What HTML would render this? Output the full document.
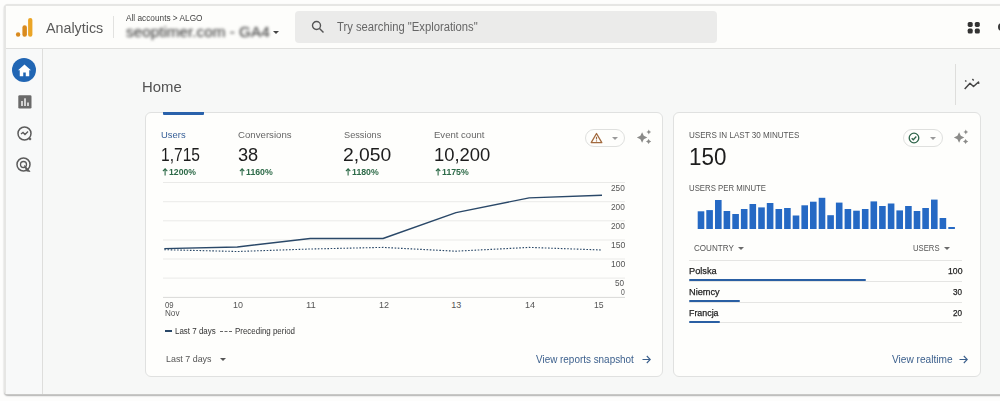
<!DOCTYPE html>
<html><head><meta charset="utf-8">
<style>
*{box-sizing:border-box;margin:0;padding:0}
html,body{width:1000px;height:401px;overflow:hidden;background:#fdfdfc;font-family:"Liberation Sans",sans-serif;color:#222}
.abs{position:absolute}
#frame{position:absolute;left:4px;top:4px;width:1010px;height:390.500px;background:#f7f8f7;border:2px solid #e6e6e4;border-bottom:1px solid #c8c8c6;border-radius:4px;box-shadow:0 1px 1.500px rgba(0,0,0,.3)}
#hdr{position:absolute;left:6px;top:6px;width:994px;height:43px;background:#fdfdfb;border-bottom:1px solid #dfdfdd}
#side{position:absolute;left:6px;top:49px;width:37px;height:344.500px;background:#f8f9f9;border-right:1px solid #dededc}
.card{position:absolute;background:#fefefc;border:1px solid #e0e1e0;border-radius:6px}
.t{position:absolute;white-space:nowrap;line-height:1;transform-origin:0 50%}
.car{position:absolute;width:0;height:0;border:3.5px solid transparent;border-top:3.8px solid #6a6a6a;border-bottom:0;margin-left:-.7px;margin-top:-.3px}
.ln{position:absolute;height:1px;background:#e5e5e3}
.bar{position:absolute;height:2.3px;background:#2a5fa3;left:689px;border-radius:1px}
</style></head><body>
<div id="frame"></div>
<div id="hdr"></div>
<div id="side"></div>

<!-- logo -->
<svg class="abs" style="left:14px;top:15px" width="22" height="24" viewBox="0 0 22 24">
<rect x="14.1" y="3" width="4.3" height="18.8" rx="2.1" fill="#eba526"/>
<rect x="8.4" y="10.2" width="4.5" height="11.6" rx="2.2" fill="#d98a1e"/>
<circle cx="4.1" cy="19.5" r="2.2" fill="#d98a1e"/>
</svg>
<div class="abs" style="left:113px;top:16px;width:1px;height:22px;background:#e2e2e0"></div>
<div class="car" style="left:273.7px;top:31px;border-top-color:#444"></div>

<!-- search -->
<div class="abs" style="left:295px;top:11px;width:422px;height:32px;background:#ebebea;border-radius:4px"></div>
<svg class="abs" style="left:311px;top:20px" width="14" height="14" viewBox="0 0 14 14"><circle cx="5.5" cy="5.5" r="4" fill="none" stroke="#555" stroke-width="1.4"/><path d="M8.5 8.5L12.5 12.5" stroke="#555" stroke-width="1.5"/></svg>

<!-- apps -->
<svg class="abs" style="left:967px;top:20.5px" width="14" height="14" viewBox="0 0 14 14"><g fill="#333"><rect x="0.7" y="0.9" width="5" height="5" rx="1.6"/><rect x="7.8" y="0.9" width="5" height="5" rx="1.6"/><rect x="0.7" y="7.6" width="5" height="5" rx="1.6"/><rect x="7.8" y="7.6" width="5" height="5" rx="1.6"/></g></svg>
<div class="abs" style="left:998.3px;top:23px;width:8px;height:8px;border-radius:4px;background:#3a3a3a"></div>

<!-- sidebar icons -->
<div class="abs" style="left:12.2px;top:58.4px;width:24px;height:24px;border-radius:50%;background:#2166b4"></div>
<svg class="abs" style="left:16.9px;top:63.2px" width="15" height="15" viewBox="0 0 13 13"><path d="M6.5 1.3L.9 6.2H2.4V11.5H5.4V8.200H7.6V11.5H10.6V6.2H12.1Z" fill="#fff"/></svg>
<svg class="abs" style="left:17.5px;top:94.7px" width="14" height="14" viewBox="0 0 14 14"><rect x="0.300" y="0.300" width="13.200" height="13.200" rx="1.300" fill="#6a6a6a"/><rect x="3.300" y="6" width="1.400" height="5" fill="#fff"/><rect x="6.300" y="3.300" width="1.400" height="7.700" fill="#fff"/><rect x="9.300" y="7.500" width="1.400" height="3.500" fill="#fff"/></svg>
<svg class="abs" style="left:15.8px;top:124.6px" width="18" height="18" viewBox="0 0 18 18"><circle cx="8.500" cy="8.500" r="6.500" fill="none" stroke="#5c5c5c" stroke-width="1.500"/><path d="M5 9L7 7.500L9 9.500L12 6.500" fill="none" stroke="#5c5c5c" stroke-width="1.400"/><path d="M12.800 12.800L14.800 14.800" stroke="#5c5c5c" stroke-width="2.200"/></svg>
<svg class="abs" style="left:15.4px;top:156.4px" width="18" height="18" viewBox="0 0 18 18"><circle cx="8.500" cy="8.500" r="6.500" fill="none" stroke="#5c5c5c" stroke-width="1.500"/><circle cx="8.500" cy="8.500" r="3" fill="none" stroke="#5c5c5c" stroke-width="1.300"/><path d="M9.500 9.500L15 15.500L11.500 15Z" fill="#5c5c5c" stroke="#5c5c5c" stroke-width=".8" stroke-linejoin="round"/></svg>

<!-- Home row -->
<div class="abs" style="left:955px;top:63.500px;width:1px;height:41px;background:#dededc"></div>
<svg class="abs" style="left:962px;top:76px" width="20" height="16" viewBox="0 0 20 16"><path d="M2.700 13L8 7.300L11.500 10.500L16.500 6L16.800 7.800" fill="none" stroke="#444" stroke-width="1.500" stroke-linejoin="round"/><path d="M3.200 4.500L4.400 5.500M10.400 3.100L11.700 4.400" stroke="#444" stroke-width="1.400"/></svg>

<!-- card 1 -->
<div class="card" style="left:145px;top:112px;width:517.500px;height:265px"></div>
<div class="abs" style="left:163px;top:112px;width:41px;height:3px;background:#2a62ab;border-radius:0 0 1px 1px"></div>

<!-- pct arrows -->
<svg class="abs" style="left:161.500px;top:168px" width="7" height="8" viewBox="0 0 7 8"><path d="M3.1 7.5V1M.9 3.200L3.1 .9L5.300 3.200" fill="none" stroke="#2d6a48" stroke-width="1.100"/></svg>
<svg class="abs" style="left:238.500px;top:168px" width="7" height="8" viewBox="0 0 7 8"><path d="M3.1 7.5V1M.9 3.200L3.1 .9L5.300 3.200" fill="none" stroke="#2d6a48" stroke-width="1.100"/></svg>
<svg class="abs" style="left:344.500px;top:168px" width="7" height="8" viewBox="0 0 7 8"><path d="M3.1 7.5V1M.9 3.200L3.1 .9L5.300 3.200" fill="none" stroke="#2d6a48" stroke-width="1.100"/></svg>
<svg class="abs" style="left:434.500px;top:168px" width="7" height="8" viewBox="0 0 7 8"><path d="M3.1 7.5V1M.9 3.200L3.1 .9L5.300 3.200" fill="none" stroke="#2d6a48" stroke-width="1.100"/></svg>

<!-- warn pill -->
<div class="abs" style="left:585px;top:129px;width:40px;height:18px;border:1px solid #dfe0de;border-radius:9px;background:#fefefc"></div>
<svg class="abs" style="left:589.800px;top:132px" width="13" height="12" viewBox="0 0 13 12"><path d="M6.500 1.500L11.800 10.600H1.200Z" fill="none" stroke="#a26a3e" stroke-width="1.300" stroke-linejoin="round"/><path d="M6.500 4.800V7.400" stroke="#a26a3e" stroke-width="1.200"/><circle cx="6.500" cy="8.900" r=".7" fill="#a26a3e"/></svg>
<div class="car" style="left:612.700px;top:137.500px;border-top-color:#999"></div>
<svg class="abs" style="left:636px;top:129px" width="17" height="17" viewBox="0 0 17 17"><g fill="#8b8b89"><path d="M6.100 3.300L7.800 6.800L11.300 8.500L7.800 10.200L6.100 13.700L4.400 10.200L.9 8.500L4.400 6.800Z"/><path d="M12.800 .6L13.600 2.200L15.200 3L13.600 3.800L12.800 5.400L12 3.800L10.400 3L12 2.200Z"/><path d="M12.600 9.900L13.500 11.600L15.200 12.500L13.500 13.400L12.600 15.100L11.700 13.400L10 12.500L11.700 11.600Z"/></g></svg>

<!-- chart -->
<svg class="abs" style="left:145px;top:175px" width="518" height="130" viewBox="0 0 518 130">
<g stroke="#eaeae8" stroke-width="1">
<line x1="18" x2="480" y1="7.500" y2="7.500"/><line x1="18" x2="480" y1="26.700" y2="26.700"/><line x1="18" x2="480" y1="45.800" y2="45.800"/><line x1="18" x2="480" y1="65" y2="65"/><line x1="18" x2="480" y1="84" y2="84"/><line x1="18" x2="480" y1="103.100" y2="103.100"/>
</g>
<line x1="18" x2="480" y1="122.400" y2="122.400" stroke="#d9d9d7"/>
<polyline points="19.3,73.6 92.3,72 165.2,63.5 238,63.5 311,37.6 384.2,22.9 457,20.3" fill="none" stroke="#2a4868" stroke-width="1.400" stroke-linejoin="round"/>
<polyline points="19.300,74.700 92.300,76.500 165.200,74 238,72.400 311,76.200 384.200,72.400 457,75" fill="none" stroke="#2a4868" stroke-width="1.100" stroke-dasharray="1.600 1.600"/>
</svg>

<div class="abs" style="left:164.500px;top:330.200px;width:7.500px;height:2px;background:#2a4868"></div>
<div class="abs" style="left:220px;top:330.500px;width:12px;height:0;border-top:1.300px dashed #666"></div>
<div class="car" style="left:220.300px;top:358.200px;border-top-color:#555"></div>
<svg class="abs" style="left:641.500px;top:354.500px" width="9" height="9" viewBox="0 0 9 9"><path d="M.5 4.500H8M4.800 1L8.300 4.500L4.800 8" fill="none" stroke="#3b5f8c" stroke-width="1.100"/></svg>

<!-- card 2 -->
<div class="card" style="left:672.500px;top:112px;width:308px;height:265px"></div>
<div class="abs" style="left:903px;top:129px;width:40px;height:18px;border:1px solid #dfe0de;border-radius:9px;background:#fefefc"></div>
<svg class="abs" style="left:908px;top:132px" width="12" height="12" viewBox="0 0 12 12"><circle cx="6" cy="6" r="4.800" fill="none" stroke="#2e644a" stroke-width="1.300"/><path d="M3.700 6.200L5.300 7.800L8.300 4.500" fill="none" stroke="#2e644a" stroke-width="1.300"/></svg>
<div class="car" style="left:930.700px;top:137.500px;border-top-color:#999"></div>
<svg class="abs" style="left:953px;top:129px" width="17" height="17" viewBox="0 0 17 17"><g fill="#8b8b89"><path d="M6.100 3.300L7.800 6.800L11.300 8.500L7.800 10.200L6.100 13.700L4.400 10.200L.9 8.500L4.400 6.800Z"/><path d="M12.800 .6L13.600 2.200L15.200 3L13.600 3.800L12.800 5.400L12 3.800L10.400 3L12 2.200Z"/><path d="M12.600 9.900L13.500 11.600L15.200 12.500L13.500 13.400L12.600 15.100L11.700 13.400L10 12.500L11.700 11.600Z"/></g></svg>

<svg class="abs" style="left:695px;top:195px" width="265" height="36" viewBox="0 0 265 36"><g fill="#2569c4" transform="translate(.3 0)"><rect x="2.4" y="16.3" width="6.6" height="17.7"/><rect x="11.0" y="15.1" width="6.6" height="18.9"/><rect x="19.7" y="5.0" width="6.6" height="29.0"/><rect x="28.3" y="16.0" width="6.6" height="18.0"/><rect x="37.0" y="19.0" width="6.6" height="15.0"/><rect x="45.6" y="14.0" width="6.6" height="20.0"/><rect x="54.2" y="9.0" width="6.6" height="25.0"/><rect x="62.9" y="12.4" width="6.6" height="21.6"/><rect x="71.5" y="8.0" width="6.6" height="26.0"/><rect x="80.2" y="14.0" width="6.6" height="20.0"/><rect x="88.8" y="13.0" width="6.6" height="21.0"/><rect x="97.4" y="20.5" width="6.6" height="13.5"/><rect x="106.1" y="10.3" width="6.6" height="23.7"/><rect x="114.7" y="6.7" width="6.6" height="27.3"/><rect x="123.4" y="2.8" width="6.6" height="31.2"/><rect x="132.0" y="20.2" width="6.6" height="13.8"/><rect x="140.6" y="7.6" width="6.6" height="26.4"/><rect x="149.3" y="14.0" width="6.6" height="20.0"/><rect x="157.9" y="15.7" width="6.6" height="18.3"/><rect x="166.6" y="14.0" width="6.6" height="20.0"/><rect x="175.2" y="6.4" width="6.6" height="27.6"/><rect x="183.8" y="11.0" width="6.6" height="23.0"/><rect x="192.5" y="8.5" width="6.6" height="25.5"/><rect x="201.1" y="15.4" width="6.6" height="18.6"/><rect x="209.8" y="11.0" width="6.6" height="23.0"/><rect x="218.4" y="16.0" width="6.6" height="18.0"/><rect x="227.0" y="13.0" width="6.6" height="21.0"/><rect x="235.7" y="4.6" width="6.6" height="29.4"/><rect x="244.3" y="23.0" width="6.6" height="11.0"/><rect x="253.0" y="32.0" width="6.6" height="2.0"/></g></svg>

<div class="car" style="left:738.700px;top:246.800px"></div>
<div class="car" style="left:944.800px;top:246.800px"></div>
<div class="ln" style="left:689px;top:260px;width:273px"></div>
<div class="ln" style="left:689px;top:280.500px;width:273px"></div>
<div class="ln" style="left:689px;top:301.500px;width:273px"></div>
<div class="ln" style="left:689px;top:322px;width:273px"></div>
<div class="bar" style="top:279px;width:177px"></div>
<div class="bar" style="top:300px;width:50.500px"></div>
<div class="bar" style="top:320.700px;width:31px"></div>

<svg class="abs" style="left:959px;top:354.500px" width="9" height="9" viewBox="0 0 9 9"><path d="M.5 4.500H8M4.800 1L8.300 4.500L4.800 8" fill="none" stroke="#3b5f8c" stroke-width="1.100"/></svg>

<div class="t" style="left:46.21px;top:20px;font-size:15px;color:#5a5a5a;transform:scaleX(0.9532);">Analytics</div>
<div class="t" style="left:126.35px;top:14.3px;font-size:8.3px;color:#444;transform:scaleX(0.9961);">All accounts &gt; ALGO</div>
<div class="t" style="left:126.23px;top:24px;font-size:15.5px;color:#2e2e2e;transform:scaleX(0.9872);filter:blur(1.7px)">seoptimer.com - GA4</div>
<div class="t" style="left:336.77px;top:21px;font-size:12px;color:#666;transform:scaleX(0.9374);">Try searching "Explorations"</div>
<div class="t" style="left:141.56px;top:79px;font-size:15px;color:#525252;transform:scaleX(0.9922);">Home</div>
<div class="t" style="left:160.79px;top:129.6px;font-size:9.4px;color:#345d96;transform:scaleX(1.0043);">Users</div>
<div class="t" style="left:160.97px;top:146.5px;font-size:17.5px;color:#1d1d1d;transform:scaleX(0.8906);">1,715</div>
<div class="t" style="left:168.62px;top:167.5px;font-size:9px;color:#2d6a48;transform:scaleX(0.9622);font-weight:bold">1200%</div>
<div class="t" style="left:237.67px;top:129.6px;font-size:9.4px;color:#666;transform:scaleX(1.0288);">Conversions</div>
<div class="t" style="left:237.79px;top:146.5px;font-size:17.5px;color:#1d1d1d;transform:scaleX(1.0394);">38</div>
<div class="t" style="left:245.86px;top:167.5px;font-size:9px;color:#2d6a48;transform:scaleX(0.9704);font-weight:bold">1160%</div>
<div class="t" style="left:343.86px;top:129.6px;font-size:9.4px;color:#666;transform:scaleX(0.9799);">Sessions</div>
<div class="t" style="left:343.09px;top:146.5px;font-size:17.5px;color:#1d1d1d;transform:scaleX(1.1040);">2,050</div>
<div class="t" style="left:351.86px;top:167.5px;font-size:9px;color:#2d6a48;transform:scaleX(0.9704);font-weight:bold">1180%</div>
<div class="t" style="left:433.74px;top:129.6px;font-size:9.4px;color:#666;transform:scaleX(1.0195);">Event count</div>
<div class="t" style="left:433.71px;top:146.5px;font-size:17.5px;color:#1d1d1d;transform:scaleX(1.0530);">10,200</div>
<div class="t" style="left:441.86px;top:167.5px;font-size:9px;color:#2d6a48;transform:scaleX(0.9704);font-weight:bold">1175%</div>
<div class="t" style="left:611.22px;top:183.5px;font-size:9.2px;color:#555;transform:scaleX(0.9000);">250</div>
<div class="t" style="left:611.22px;top:202.5px;font-size:9.2px;color:#555;transform:scaleX(0.8998);">200</div>
<div class="t" style="left:611.22px;top:221.7px;font-size:9.2px;color:#555;transform:scaleX(0.8998);">200</div>
<div class="t" style="left:610.99px;top:241px;font-size:9.2px;color:#555;transform:scaleX(0.9404);">150</div>
<div class="t" style="left:610.99px;top:260px;font-size:9.2px;color:#555;transform:scaleX(0.9404);">100</div>
<div class="t" style="left:615.37px;top:278.6px;font-size:9px;color:#555;transform:scaleX(0.9085);">50</div>
<div class="t" style="left:620.81px;top:287.7px;font-size:9px;color:#555;transform:scaleX(0.7563);">0</div>
<div class="t" style="left:164.74px;top:301px;font-size:9px;color:#555;transform:scaleX(0.8565);">09</div>
<div class="t" style="left:164.62px;top:309px;font-size:9px;color:#555;transform:scaleX(0.9035);">Nov</div>
<div class="t" style="left:232.76px;top:301px;font-size:9px;color:#555;transform:scaleX(0.9951);">10</div>
<div class="t" style="left:305.57px;top:301px;font-size:9px;color:#555;transform:scaleX(1.0583);">11</div>
<div class="t" style="left:378.94px;top:301px;font-size:9px;color:#555;transform:scaleX(1.0034);">12</div>
<div class="t" style="left:451.25px;top:301px;font-size:9px;color:#555;transform:scaleX(1.0000);">13</div>
<div class="t" style="left:524.5px;top:301px;font-size:9px;color:#555;transform:scaleX(1.0084);">14</div>
<div class="t" style="left:593.56px;top:301px;font-size:9px;color:#555;transform:scaleX(0.9653);">15</div>
<div class="t" style="left:175.14px;top:327px;font-size:8.5px;color:#333;transform:scaleX(0.9365);">Last 7 days</div>
<div class="t" style="left:235.25px;top:327px;font-size:8.5px;color:#333;transform:scaleX(0.9334);">Preceding period</div>
<div class="t" style="left:166.13px;top:354px;font-size:9.8px;color:#555;transform:scaleX(0.9082);">Last 7 days</div>
<div class="t" style="left:535.79px;top:354px;font-size:10.5px;color:#3b5f8c;transform:scaleX(0.9438);">View reports snapshot</div>
<div class="t" style="left:688.76px;top:131.1px;font-size:8.5px;color:#555;transform:scaleX(0.9506);">USERS IN LAST 30 MINUTES</div>
<div class="t" style="left:688.63px;top:146px;font-size:23.5px;color:#1d1d1d;transform:scaleX(0.9530);">150</div>
<div class="t" style="left:688.7px;top:184.2px;font-size:8.5px;color:#555;transform:scaleX(0.9165);">USERS PER MINUTE</div>
<div class="t" style="left:693.87px;top:243.5px;font-size:8.5px;color:#555;transform:scaleX(0.9503);">COUNTRY</div>
<div class="t" style="left:913.2px;top:243.5px;font-size:8.5px;color:#555;transform:scaleX(0.9053);">USERS</div>
<div class="t" style="left:689.19px;top:266px;font-size:9.5px;color:#1d1d1d;transform:scaleX(0.9713);-webkit-text-stroke:.25px #1d1d1d">Polska</div>
<div class="t" style="left:689.12px;top:287px;font-size:9.5px;color:#1d1d1d;transform:scaleX(0.9677);-webkit-text-stroke:.25px #1d1d1d">Niemcy</div>
<div class="t" style="left:688.71px;top:308px;font-size:9.5px;color:#1d1d1d;transform:scaleX(0.9328);-webkit-text-stroke:.25px #1d1d1d">Francja</div>
<div class="t" style="left:948.12px;top:266px;font-size:9.5px;color:#1d1d1d;transform:scaleX(0.9143);-webkit-text-stroke:.25px #1d1d1d">100</div>
<div class="t" style="left:953.17px;top:287px;font-size:9.5px;color:#1d1d1d;transform:scaleX(0.8539);-webkit-text-stroke:.25px #1d1d1d">30</div>
<div class="t" style="left:953.17px;top:308px;font-size:9.5px;color:#1d1d1d;transform:scaleX(0.8563);-webkit-text-stroke:.25px #1d1d1d">20</div>
<div class="t" style="left:891.5px;top:354px;font-size:10.5px;color:#3b5f8c;transform:scaleX(0.9648);">View realtime</div>
</body></html>
